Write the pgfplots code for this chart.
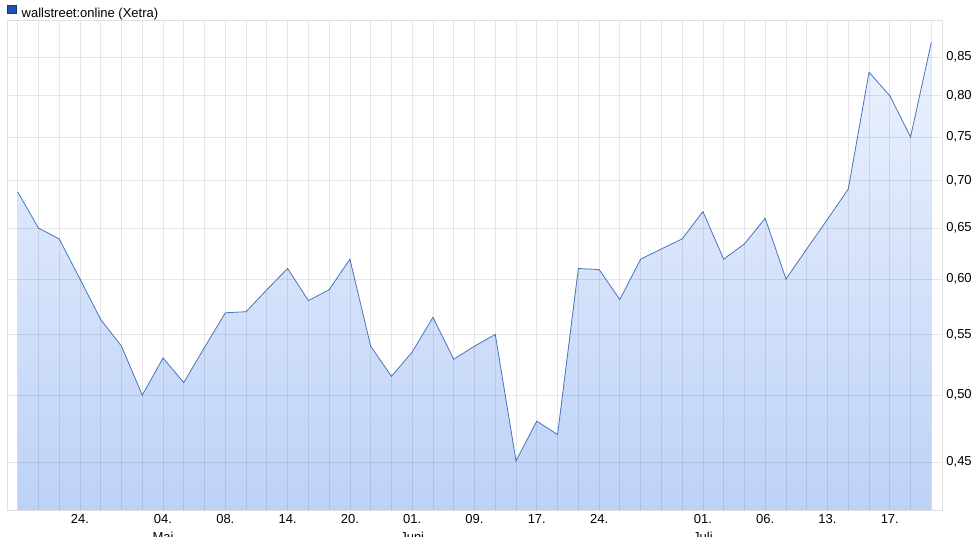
\documentclass[border=0pt]{standalone}
\usepackage{pgfplots}
\usepackage{pgfplotstable}
\pgfplotsset{compat=1.18}
\usepackage{fontspec}
\setmainfont{Liberation Sans}

\definecolor{linec}{RGB}{74,116,190}
\definecolor{filltop}{RGB}{236,242,254}
\definecolor{fillbot}{RGB}{189,210,247}
\definecolor{legsq}{RGB}{32,82,178}

% price per trading day, index 0..44
\pgfplotstableread{
idx val
0  0.688
1  0.650
2  0.639
3  0.600
4  0.563
5  0.540
6  0.500
7  0.530
8  0.510
9  0.539
10 0.569
11 0.570
12 0.590
13 0.610
14 0.580
15 0.590
16 0.619
17 0.540
18 0.515
19 0.535
20 0.565
21 0.529
22 0.540
23 0.550
24 0.451
25 0.480
26 0.470
27 0.610
28 0.609
29 0.581
30 0.619
31 0.629
32 0.639
33 0.667
34 0.619
35 0.634
36 0.660
37 0.600
38 0.629
39 0.659
40 0.691
41 0.830
42 0.800
43 0.750
44 0.870
}\prices

\begin{document}
\begin{tikzpicture}
\begin{axis}[
  at={(7.3pt,26pt)}, anchor=south west,
  scale only axis, width=934.4pt, height=490pt,
  ymode=log, log origin y=infty,
  xmin=-0.5, xmax=44.5, ymin=0.4175, ymax=0.901,
  axis on top,
  axis line style={draw=black!12},
  major tick length=0pt, minor tick length=0pt,
  xtick={3,7,10,13,16,19,22,25,28,33,36,39,42},
  xticklabels={24.,{04.\\Mai},08.,14.,20.,{01.\\Juni},09.,17.,24.,{01.\\Juli},06.,13.,17.},
  minor xtick={0,1,2,4,5,6,8,9,11,12,14,15,17,18,20,21,23,24,26,27,29,30,31,32,34,35,37,38,40,41,43,44},
  ytick={0.45,0.50,0.55,0.60,0.65,0.70,0.75,0.80,0.85},
  yticklabels={{0,45},{0,50},{0,55},{0,60},{0,65},{0,70},{0,75},{0,80},{0,85}},
  yticklabel pos=right,
  xmajorgrids, xminorgrids, ymajorgrids,
  major grid style={draw=black, opacity=0.09, line width=0.8pt},
  minor grid style={draw=black, opacity=0.09, line width=0.8pt},
  x tick label style={font=\fontsize{13}{17.5}\selectfont, align=center, anchor=north, inner sep=0pt, yshift=-4.5pt},
  y tick label style={font=\fontsize{13}{15}\selectfont, anchor=west, inner sep=0pt, xshift=4.5pt},
  legend style={at={(0,1)}, anchor=south west, yshift=1.5pt, draw=none, fill=none,
    inner sep=0pt, outer sep=0pt, font=\fontsize{13}{15}\selectfont,
    nodes={inner sep=0pt}},
  legend cell align=left,
  /tikz/every odd column/.append style={column sep=5.5pt},
]
\addplot[draw=none, top color=filltop, bottom color=fillbot, forget plot]
  table[x=idx, y=val]{\prices} \closedcycle;
\addplot[linec, line width=0.8pt, forget plot] table[x=idx, y=val]{\prices};
\addlegendimage{legend image code/.code={\fill[legsq, draw=legsq!70!black] (0pt,0pt) rectangle (8.5pt,8pt);}}
\addlegendentry{wallstreet:online (Xetra)}
\end{axis}
\pgfresetboundingbox
\path[use as bounding box] (0pt,0pt) rectangle (976pt,536pt);
\end{tikzpicture}
\end{document}
